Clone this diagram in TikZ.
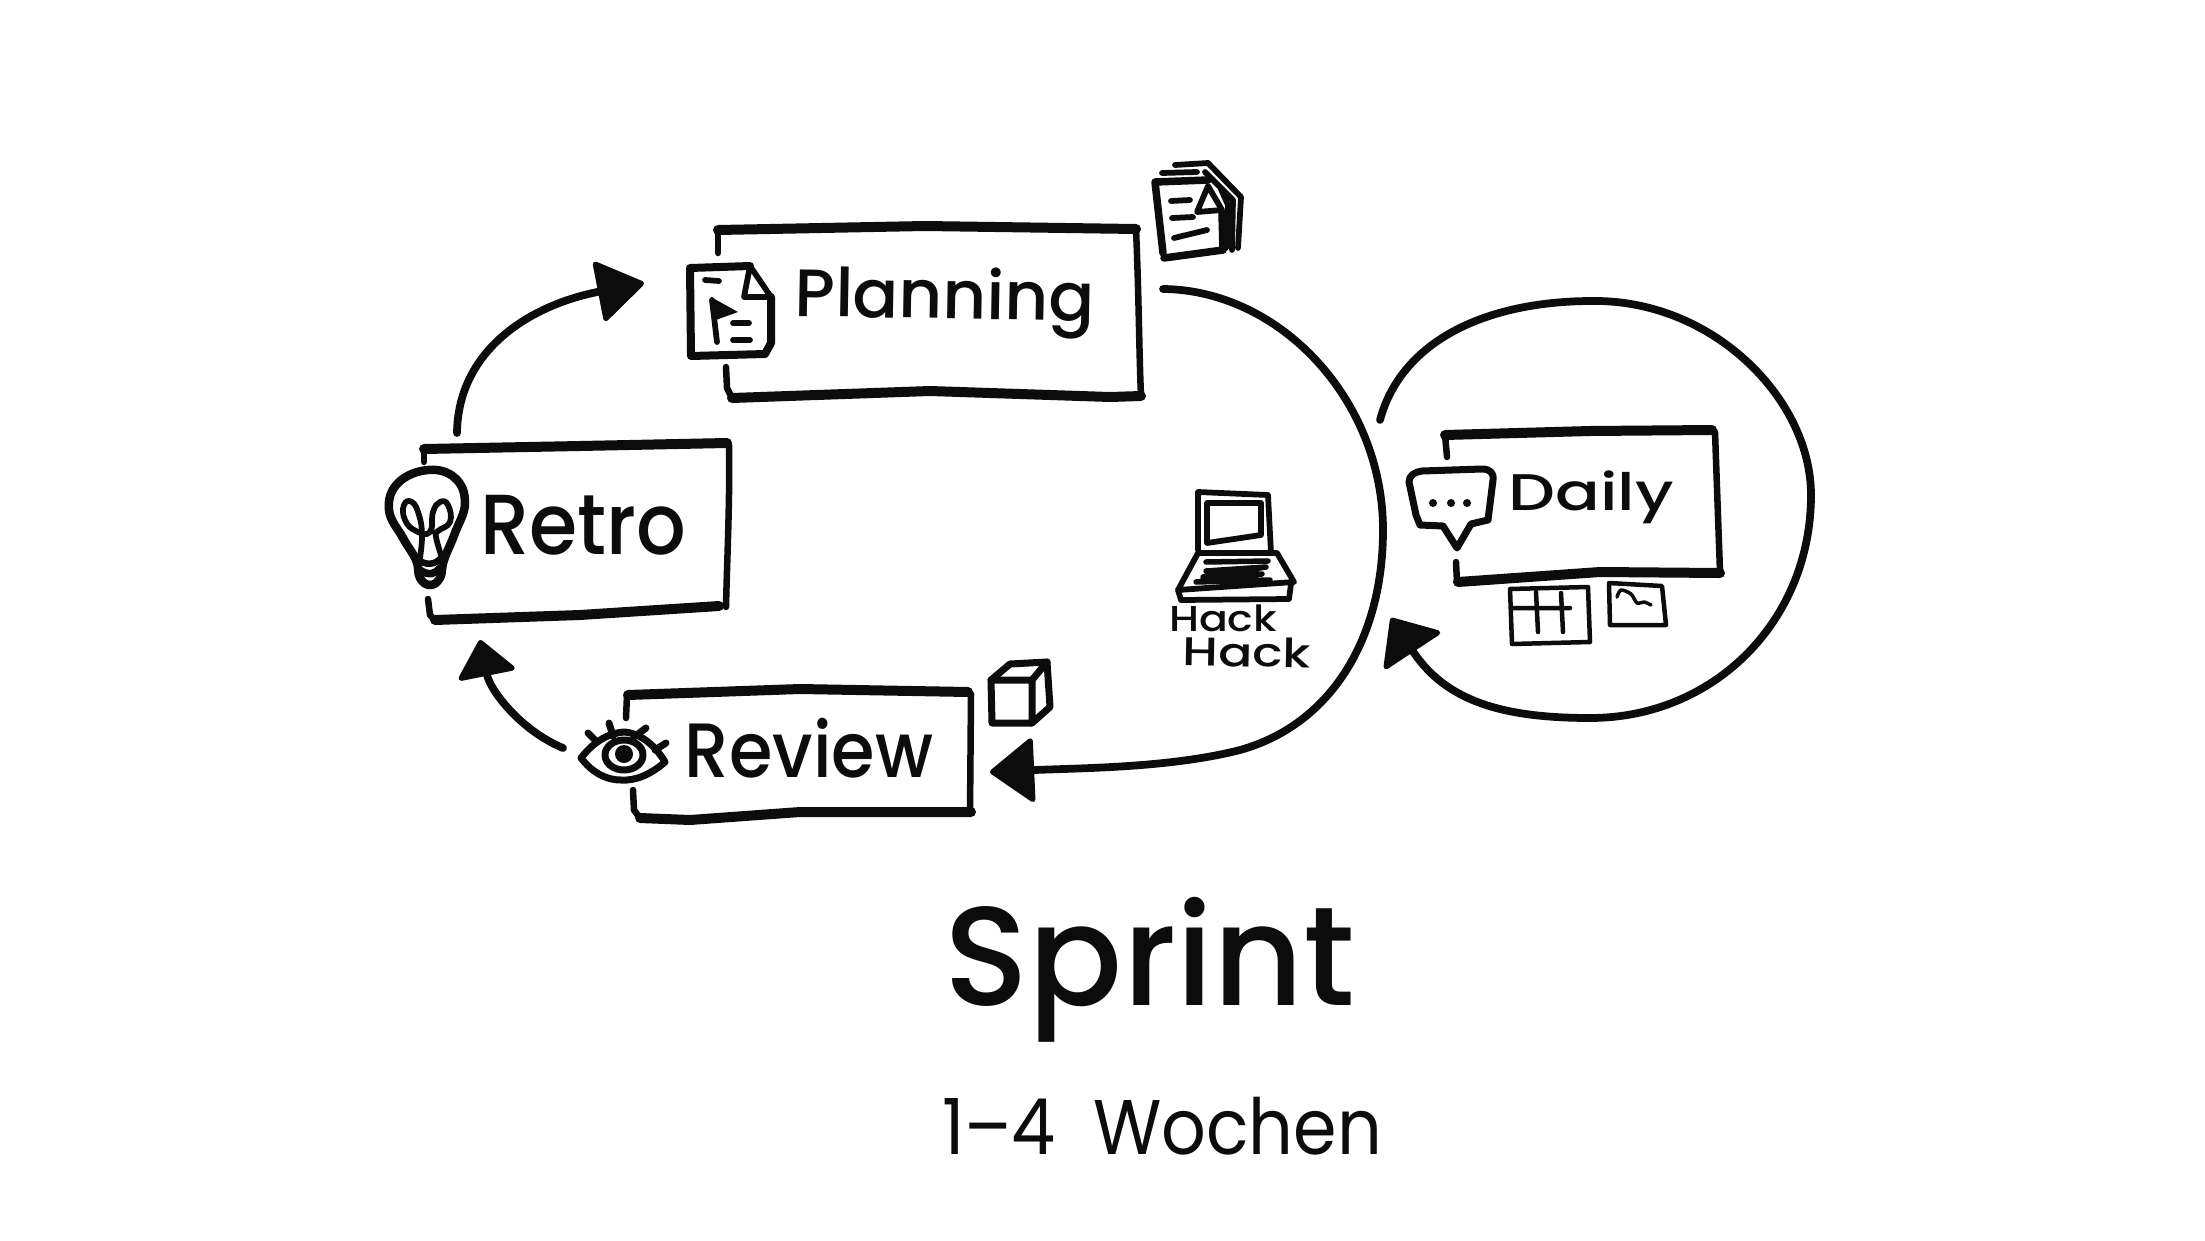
\documentclass[tikz,border=0pt]{standalone}
\usepackage{fontspec}
\usepackage{graphicx}
\usetikzlibrary{arrows.meta}
\newfontfamily\hand{Poppins}
\newfontfamily\handm{Poppins Medium}
\newdimen\pxu \pxu=0.02cm
\newcommand\hw[3]{\resizebox*{#1\pxu}{#2\pxu}{\hand #3}}
\newcommand\hm[3]{\resizebox*{#1\pxu}{#2\pxu}{\handm #3}}
\tikzset{
  pen/.style={draw=ink,line cap=round,line join=round},
  penbox/.style={pen,line width=0.20cm},
  penside/.style={pen,line width=0.13cm},
  penicon/.style={pen,line width=0.115cm},
  penfine/.style={pen,line width=0.09cm},
  conn/.style={pen,line width=0.155cm},
  hwtext/.style={inner sep=0pt,outer sep=0pt,text=ink},
}
\definecolor{ink}{HTML}{0C0C0C}
\begin{document}
\begin{tikzpicture}[x=0.02cm,y=-0.02cm]
\useasboundingbox (0,0) rectangle (2205,1241);
\fill[white] (0,0) rectangle (2205,1241);

% anchor points of the connectors
\coordinate (retroOut) at (457,433);
\coordinate (planIn) at (644,283);
\coordinate (planOut) at (1163,289);
\coordinate (reviewIn) at (990,772);
\coordinate (reviewOut) at (563,748);
\coordinate (retroIn) at (480,640);
\coordinate (dailyStart) at (1380,420);
\coordinate (dailyEnd) at (1391,618);

% ---------- boxes
\draw[penbox] (718,230) -- (925,226) -- (1136,229);
\draw[penside] (718,230) -- (718,253);
\draw[penside] (1136,229) .. controls (1139,300) and (1139,350) .. (1141,396);
\draw[penbox] (1141,396) -- (1110,397) -- (930,391) -- (732,398);
\draw[penside] (726,367) -- (727,388) -- (732,398);

\draw[penbox] (424,449) -- (580,446) -- (727,443);
\draw[penside] (424,449) -- (424,462);
\draw[penside] (729,445) .. controls (730,500) and (727,560) .. (726,607);
\draw[penbox] (435,620) -- (580,615) -- (719,606);
\draw[penside] (428,599) -- (430,615) -- (435,620);

\draw[penbox] (628,695) -- (800,689) -- (968,692);
\draw[penside] (627,695) -- (626,718);
\draw[penside] (971,694) -- (970,813);
\draw[penbox] (971,812) -- (800,812) -- (690,820) -- (640,818);
\draw[penside] (633,790) -- (634,810) -- (640,818);

\draw[penbox] (1445,435) -- (1590,431) -- (1712,430);
\draw[penside] (1445,435) -- (1447,457);
\draw[penside] (1715,432) -- (1720,572);
\draw[penbox] (1720,573) -- (1600,572) -- (1458,582);
\draw[penside] (1456,562) -- (1457,582);

% ---------- labels
\node[hwtext,rotate=-1] (tplanning) at (945,302) {\hm{300}{70}{Planning}};
\node[hwtext] (tretro) at (583,525) {\hm{206}{60}{Retro}};
\node[hwtext] (treview) at (809,748) {\hm{248}{60}{Review}};
\node[hwtext] (tdaily) at (1591,497) {\hm{165}{53}{Daily}};
\node[hwtext] (thack) at (1223,618) {\hm{108}{27}{Hack}};
\node[hwtext,rotate=-1] (thackb) at (1247,652) {\hm{128}{30}{Hack}};
\node[hwtext] (tsprint) at (1150,970) {\hm{410}{145}{Sprint}};
\node[hwtext] (tweeks) at (1162,1126) {\hw{440}{58}{1–4~~Wochen}};

% ---------- connectors
\draw[conn,-{Triangle[length=0.98cm,width=1.28cm,round,line width=3pt]}] (retroOut)
  .. controls (458,350) and (530,305) .. (planIn);
\draw[conn,-{Triangle[length=0.92cm,width=1.36cm,round,line width=3pt]}] (planOut)
  .. controls (1280,290) and (1383,400) .. (1383,530)
  .. controls (1383,640) and (1330,725) .. (1240,750)
  .. controls (1170,768) and (1080,768) .. (reviewIn);
\draw[conn,-{Triangle[length=0.76cm,width=1.24cm,round,line width=3pt]}] (reviewOut)
  .. controls (520,730) and (490,690) .. (retroIn);
\draw[conn,-{Triangle[length=0.84cm,width=1.44cm,round,line width=3pt]}] (dailyStart)
  .. controls (1400,345) and (1480,300) .. (1597,301)
  .. controls (1715,302) and (1811,400) .. (1811,495)
  .. controls (1811,620) and (1715,718) .. (1590,718)
  .. controls (1500,718) and (1445,700) .. (dailyEnd);

% ---------- Planning document icon
\fill[white] (685,265) rectangle (771,357);
\draw[penbox,line width=0.16cm] (750,266) -- (690,268) -- (691,356) -- (765,354) -- (771,343) -- (771,297);
\draw[penicon] (750,266) -- (771,297) -- (744,297) -- (750,266);
\draw[penicon] (705,280) -- (719,281);
\fill[ink] (711,297) -- (738,312) -- (713,321) -- cycle;
\draw[penicon] (712,300) -- (717,342);
\draw[penicon] (733,323) -- (749,323) (733,340) -- (750,340);

% ---------- stacked documents icon
\draw[penbox,line width=0.15cm] (1208,180) -- (1155,182) -- (1163,253);
\draw[penbox,line width=0.15cm] (1164,258) -- (1223,250) -- (1222,213);
\draw[penicon] (1208,186) -- (1197,212) -- (1222,210) -- (1208,186);
\draw[penicon] (1162,173) -- (1197,172) (1175,165) -- (1208,163);
\draw[penicon] (1208,163) -- (1241,197) -- (1238,248);
\draw[penicon] (1205,172) -- (1233,200) -- (1232,250) (1220,187) -- (1228,205) -- (1226,248);
\draw[penicon] (1171,201) -- (1190,200) (1172,218) -- (1193,217) (1174,238) -- (1207,230);

% ---------- bulb
\fill[white] (388,468) rectangle (465,588);
\draw[penbox,line width=0.17cm] plot[smooth cycle,tension=0.7] coordinates
  {(428,470) (455,478) (465,503) (455,533) (444,560) (440,578) (430,585) (420,578) (416,560) (403,538) (389,510) (398,483)};
\draw[penicon] plot[smooth,tension=0.8] coordinates
  {(442,558) (436,537) (438,531) (450,522) (448,505) (440,502) (433,512) (430,532) (416,531) (405,520) (404,505) (412,502) (419,515) (422,535) (420,558)};
\draw[penbox,line width=0.13cm] (416,558) .. controls (425,566) and (435,566) .. (443,556);
\draw[penbox,line width=0.15cm] (420,570) .. controls (428,576) and (436,574) .. (440,568);

% ---------- eye
\fill[white] (578,725) rectangle (667,782);
\draw[penicon,line width=0.14cm] (581,758) .. controls (595,740) and (610,733) .. (624,732) .. controls (640,733) and (655,745) .. (665,762)
  .. controls (650,775) and (635,781) .. (621,780) .. controls (605,780) and (592,772) .. (581,758) -- cycle;
\draw[penicon,line width=0.14cm] (624,755) ellipse (19 and 15);
\fill[ink] (624,754) circle (9);
\draw[penicon,line width=0.14cm] (588,733) -- (597,742) (609,723) -- (613,736) (634,737) -- (646,728) (655,750) -- (666,743);

% ---------- cube
\draw[penicon,line width=0.14cm] (991,680) -- (992,723) -- (1032,723) -- (1032,680) -- cycle;
\draw[penicon,line width=0.14cm] (991,680) -- (1010,664) -- (1047,662) -- (1032,680);
\draw[penicon,line width=0.14cm] (1047,662) -- (1050,707) -- (1032,723);

% ---------- speech bubble
\fill[white] (1409,470) rectangle (1493,527);
\draw[penicon,line width=0.14cm] (1443,526) -- (1420,525) -- (1416,515) -- (1409,482) .. controls (1409,475) and (1415,472) .. (1422,471)
  -- (1482,469) .. controls (1490,469) and (1494,473) .. (1493,480) -- (1488,520) -- (1471,524) -- (1457,548) -- (1443,526);
\fill[ink] (1433,503) circle (4) (1451,503) circle (4) (1467,503) circle (4);

% ---------- table and chart
\draw[penfine] (1510,589) -- (1588,587) -- (1590,642) -- (1512,644) -- cycle;
\draw[penfine] (1511,608) -- (1570,608) (1536,592) -- (1538,632) (1561,593) -- (1563,632);
\draw[penfine] (1609,583) -- (1662,586) -- (1666,625) -- (1610,625) -- cycle;
\draw[penfine,line width=0.07cm] plot[smooth,tension=0.5] coordinates
  {(1617,597) (1621,590) (1631,594) (1637,603) (1644,602) (1651,605)};

% ---------- laptop
\draw[penicon] (1198,550) -- (1198,492) -- (1268,495) -- (1271,553);
\draw[penicon] (1207,503) -- (1261,503) -- (1261,535) -- (1207,543) -- cycle;
\draw[penicon] (1198,553) -- (1277,553) -- (1294,582) -- (1178,590) -- cycle;
\draw[penicon] (1178,590) -- (1181,600) -- (1289,599) -- (1291,584);
\draw[penfine,line width=0.11cm] (1206,562) -- (1268,561) (1206,571) -- (1266,567) -- (1203,577) -- (1262,574) -- (1196,582) -- (1270,580);
\end{tikzpicture}
\end{document}
